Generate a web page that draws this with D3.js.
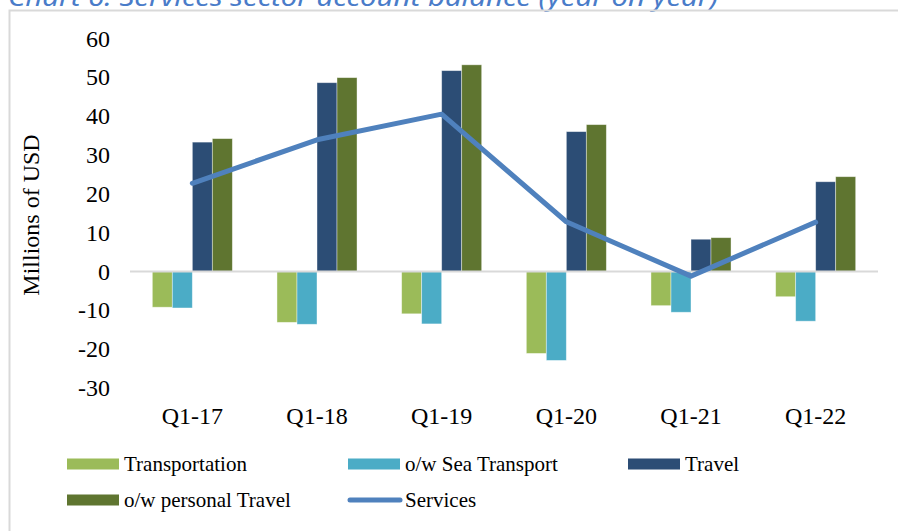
<!DOCTYPE html>
<html>
<head>
<meta charset="utf-8">
<script src="https://cdn.jsdelivr.net/npm/d3@7"></script>
<style>
  body { margin: 0; background: #fff; }
  svg { display: block; }
</style>
</head>
<body>
<div id="chart"></div>
<script>
var categories = ['Q1-17', 'Q1-18', 'Q1-19', 'Q1-20', 'Q1-21', 'Q1-22'];
var transportation = [-9.2, -13.1, -10.9, -21.1, -8.8, -6.5];
var seaTransport = [-9.4, -13.6, -13.5, -22.9, -10.5, -12.8];
var travel = [33.3, 48.6, 51.7, 36.0, 8.3, 23.1];
var personalTravel = [34.2, 49.9, 53.2, 37.8, 8.7, 24.4];
var services = [22.7, 33.9, 40.5, 12.8, -1.2, 12.7];
var yTicks = [-30, -20, -10, 0, 10, 20, 30, 40, 50, 60];

var barSeries = [
	{ name: 'Transportation', values: transportation, color: '#9bbb59' },
	{ name: 'o/w Sea Transport', values: seaTransport, color: '#4bacc6' },
	{ name: 'Travel', values: travel, color: '#2c4d75' },
	{ name: 'o/w personal Travel', values: personalTravel, color: '#5f7530' }
];

var width = 898;
var height = 531;

var svg = d3.select('#chart')
	.append('svg')
	.attr('width', width)
	.attr('height', height);

svg.append('rect')
	.attr('width', width)
	.attr('height', height)
	.attr('fill', '#fff');

// title, cut off at the top like the source
svg.append('text')
	.attr('x', 8)
	.attr('y', 6)
	.attr('fill', '#4a7cc9')
	.attr('font-family', '"Noto Sans", sans-serif')
	.attr('font-style', 'italic')
	.attr('font-size', 25)
	.attr('textLength', 710)
	.attr('lengthAdjust', 'spacingAndGlyphs')
	.text('Chart 6: Services sector account balance (year on year)');

// frame
svg.append('path')
	.attr('d', 'M9.5,' + height + 'V10.5H' + width)
	.attr('fill', 'none')
	.attr('stroke', '#d9d9d9')
	.attr('stroke-width', 2);

// scales
var x_scale = d3.scaleBand()
	.domain(categories)
	.range([130, 878])
	.paddingInner(0.358)
	.paddingOuter(0.179);

var x_inner = d3.scaleBand()
	.domain(barSeries.map(function(s){ return s.name; }))
	.range([0, x_scale.bandwidth()]);

var y_scale = d3.scaleLinear()
	.domain([-30, 60])
	.range([388, 38.4]);

// y axis labels (plain hyphen for negatives)
var y_axis = d3.axisLeft(y_scale)
	.tickValues(yTicks)
	.tickFormat(function(d){ return String(d); })
	.tickSize(0)
	.tickPadding(0);
var yg = svg.append('g')
	.attr('transform', 'translate(110,0)')
	.call(y_axis);
yg.select('.domain').remove();
yg.selectAll('text')
	.attr('font-family', '"Liberation Serif", "Times New Roman", serif')
	.attr('font-size', 24)
	.attr('fill', '#000');

svg.append('text')
	.attr('transform', 'translate(39,' + 215 + ') rotate(-90)')
	.attr('text-anchor', 'middle')
	.attr('font-family', '"Liberation Serif", "Times New Roman", serif')
	.attr('font-size', 24)
	.attr('fill', '#000')
	.text('Millions of USD');

// bars
var groups = svg.selectAll('g.series')
	.data(barSeries)
	.enter()
	.append('g')
	.attr('class', 'series')
	.attr('fill', function(s){ return s.color; });

groups.selectAll('rect')
	.data(function(s){
		return s.values.map(function(v, i){ return { name: s.name, cat: categories[i], value: v }; });
	})
	.enter()
	.append('rect')
	.attr('x', function(d){ return x_scale(d.cat) + x_inner(d.name); })
	.attr('y', function(d){ return y_scale(Math.max(0, d.value)); })
	.attr('width', x_inner.bandwidth())
	.attr('height', function(d){ return Math.abs(y_scale(d.value) - y_scale(0)); })
	.attr('stroke', '#fff')
	.attr('stroke-opacity', 0.5)
	.attr('stroke-width', 0.8);

// zero line
svg.append('line')
	.attr('x1', 130)
	.attr('x2', 878)
	.attr('y1', y_scale(0))
	.attr('y2', y_scale(0))
	.attr('stroke', '#d9d9d9')
	.attr('stroke-width', 2);

// x labels
var x_axis = d3.axisBottom(x_scale)
	.tickSize(0)
	.tickPadding(0);
var xg = svg.append('g')
	.attr('transform', 'translate(0,407)')
	.call(x_axis);
xg.select('.domain').remove();
xg.selectAll('text')
	.attr('font-family', '"Liberation Serif", "Times New Roman", serif')
	.attr('font-size', 24)
	.attr('fill', '#000');

// services line
var line = d3.line()
	.x(function(d, i){ return x_scale(categories[i]) + x_scale.bandwidth() / 2; })
	.y(function(d){ return y_scale(d); });

svg.append('path')
	.datum(services)
	.attr('d', line)
	.attr('fill', 'none')
	.attr('stroke', '#4f81bd')
	.attr('stroke-width', 5)
	.attr('stroke-linecap', 'round')
	.attr('stroke-linejoin', 'round');

// legend
var legendItems = barSeries.map(function(s){ return { name: s.name, color: s.color, type: 'bar' }; });
legendItems.push({ name: 'Services', color: '#4f81bd', type: 'line' });
var legendX = [67, 348, 628];
var legendY = [464, 500];

var legend = svg.selectAll('g.legend')
	.data(legendItems)
	.enter()
	.append('g')
	.attr('class', 'legend')
	.attr('transform', function(d, i){
		return 'translate(' + legendX[i % 3] + ',' + legendY[Math.floor(i / 3)] + ')';
	});

legend.filter(function(d){ return d.type === 'bar'; })
	.append('rect')
	.attr('x', 0)
	.attr('y', -5.5)
	.attr('width', 52)
	.attr('height', 11)
	.attr('fill', function(d){ return d.color; });

legend.filter(function(d){ return d.type === 'line'; })
	.append('line')
	.attr('x1', 2)
	.attr('x2', 52)
	.attr('stroke', function(d){ return d.color; })
	.attr('stroke-width', 5)
	.attr('stroke-linecap', 'round');

legend.append('text')
	.attr('x', 57)
	.attr('y', 7)
	.attr('font-family', '"Liberation Serif", "Times New Roman", serif')
	.attr('font-size', 21)
	.attr('fill', '#000')
	.text(function(d){ return d.name; });
</script>
</body>
</html>
